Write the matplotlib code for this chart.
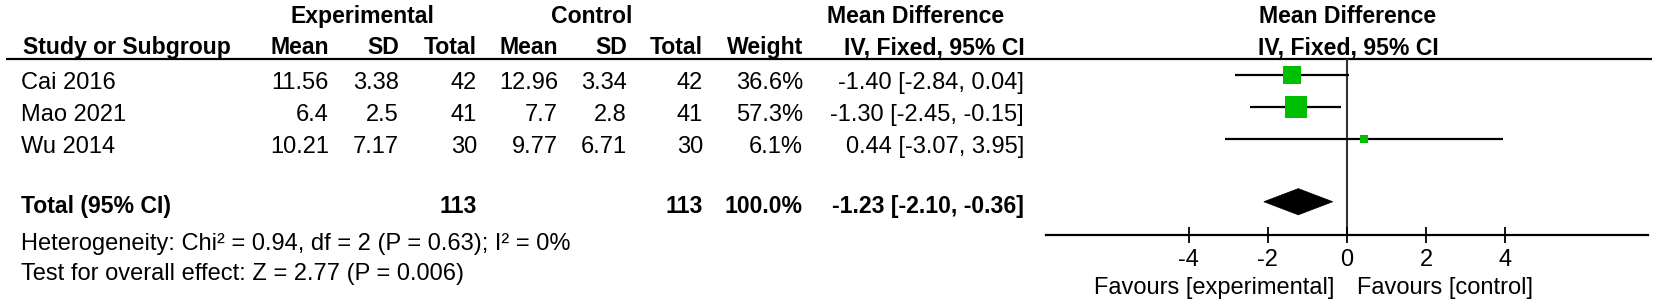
import matplotlib
matplotlib.use("Agg")
import matplotlib.pyplot as plt
from matplotlib.patches import Polygon
import numpy as np

plt.rcParams['font.family'] = ['Liberation Sans', 'DejaVu Sans']

# ---------------- data ----------------
studies = ['Cai 2016', 'Mao 2021', 'Wu 2014']
exp_mean = [11.56, 6.4, 10.21]
exp_sd = [3.38, 2.5, 7.17]
exp_n = [42, 41, 30]
ctl_mean = [12.96, 7.7, 9.77]
ctl_sd = [3.34, 2.8, 6.71]
ctl_n = [42, 41, 30]
weights = [36.6, 57.3, 6.1]
md = [-1.40, -1.30, 0.44]
md_lo = [-2.84, -2.45, -3.07]
md_hi = [0.04, -0.15, 3.95]
total_exp_n = 113
total_ctl_n = 113
total_weight = 100.0
total_md, total_lo, total_hi = -1.23, -2.10, -0.36
heterogeneity = 'Heterogeneity: Chi² = 0.94, df = 2 (P = 0.63); I² = 0%'
overall = 'Test for overall effect: Z = 2.77 (P = 0.006)'
xticks = [-4, -2, 0, 2, 4]
fav_left = 'Favours [experimental]'
fav_right = 'Favours [control]'

# ---------------- layout ----------------
W, H = 1664, 306
DPI = 100
fig = plt.figure(figsize=(W / DPI, H / DPI), dpi=DPI)
fig.patch.set_facecolor('white')

tx = fig.add_axes([0, 0, 1, 1])
tx.set_xlim(0, W)
tx.set_ylim(H, 0)
tx.axis('off')

FS = 17.0    # regular
FB = 16.6    # bold
GREEN = '#00bf00'

# column right edges (pixels)
col_exp_mean, col_exp_sd, col_exp_n = 329, 399, 477
col_ctl_mean, col_ctl_sd, col_ctl_n = 558, 627, 703
col_weight, col_ci = 803, 1024
left_x = 21

# header rows
tx.text(362, 23, 'Experimental', ha='center', va='baseline', fontsize=FB, fontweight='bold')
tx.text(592, 23, 'Control', ha='center', va='baseline', fontsize=FB, fontweight='bold')
tx.text(916, 23, 'Mean Difference', ha='center', va='baseline', fontsize=FB, fontweight='bold')
tx.text(23, 54, 'Study or Subgroup', ha='left', va='baseline', fontsize=FB, fontweight='bold')
for x, s in [(col_exp_mean, 'Mean'), (col_exp_sd, 'SD'), (col_exp_n, 'Total'),
             (col_ctl_mean, 'Mean'), (col_ctl_sd, 'SD'), (col_ctl_n, 'Total'),
             (col_weight, 'Weight'), (col_ci + 1, 'IV, Fixed, 95% CI')]:
    tx.text(x, 54, s, ha='right', va='baseline', fontsize=FB, fontweight='bold')

# header rule
tx.plot([6, 1652], [59, 59], color='black', lw=1.6, solid_capstyle='butt')

# study rows
for i, name in enumerate(studies):
    yb = 89 + 32 * i
    tx.text(left_x, yb, name, ha='left', va='baseline', fontsize=FS)
    vals = [(col_exp_mean, f'{exp_mean[i]:g}'), (col_exp_sd, f'{exp_sd[i]:g}'),
            (col_exp_n, f'{exp_n[i]}'), (col_ctl_mean, f'{ctl_mean[i]:g}'),
            (col_ctl_sd, f'{ctl_sd[i]:g}'), (col_ctl_n, f'{ctl_n[i]}'),
            (col_weight, f'{weights[i]:.1f}%'),
            (col_ci, f'{md[i]:.2f} [{md_lo[i]:.2f}, {md_hi[i]:.2f}]')]
    for x, s in vals:
        tx.text(x, yb, s, ha='right', va='baseline', fontsize=FS)

# total row
yb = 213
tx.text(left_x, yb, 'Total (95% CI)', ha='left', va='baseline', fontsize=FB, fontweight='bold')
tx.text(col_exp_n, yb, f'{total_exp_n}', ha='right', va='baseline', fontsize=FB, fontweight='bold')
tx.text(col_ctl_n, yb, f'{total_ctl_n}', ha='right', va='baseline', fontsize=FB, fontweight='bold')
tx.text(col_weight, yb, f'{total_weight:.1f}%', ha='right', va='baseline', fontsize=FB, fontweight='bold')
tx.text(col_ci, yb, f'{total_md:.2f} [{total_lo:.2f}, {total_hi:.2f}]', ha='right',
        va='baseline', fontsize=FB, fontweight='bold')

tx.text(left_x, 250, heterogeneity, ha='left', va='baseline', fontsize=FS)
tx.text(left_x, 280, overall, ha='left', va='baseline', fontsize=FS)

# ---------------- forest plot ----------------
ax_l, ax_r = 1046, 1648
ax_t, ax_b = 59, 235
ax = fig.add_axes([ax_l / W, 1 - ax_b / H, (ax_r - ax_l) / W, (ax_b - ax_t) / H])
ax.set_xlim(-7.6, 7.6)
ax.set_ylim(5.0, -0.5)
ax.patch.set_alpha(0)
for sp in ['top', 'left', 'right']:
    ax.spines[sp].set_visible(False)
ax.spines['bottom'].set_linewidth(1.6)
ax.set_yticks([])
ax.set_xticks(xticks)
ax.set_xticklabels([f'{t:g}' for t in xticks])
ax.tick_params(axis='x', direction='inout', length=11.5, width=1.3, pad=4.5,
               labelsize=FS, colors='black')

ax.axvline(0, color='#333333', lw=1.5, zorder=1)

for i in range(len(studies)):
    ax.plot([md_lo[i], md_hi[i]], [i, i], color='black', lw=1.6, solid_capstyle='butt', zorder=2)
    side_px = 2.85 * np.sqrt(weights[i])
    ax.plot([md[i]], [i], marker='s', linestyle='none', markersize=side_px * 0.72,
            markerfacecolor=GREEN, markeredgewidth=0, zorder=3)

yd = 3.96
hd = 0.41
diamond = Polygon([[total_lo, yd], [total_md, yd - hd], [total_hi, yd], [total_md, yd + hd]],
                  closed=True, facecolor='black', edgecolor='black', lw=0.5, zorder=3)
ax.add_patch(diamond)

# plot header
tx.text(1348, 23, 'Mean Difference', ha='center', va='baseline', fontsize=FB, fontweight='bold')
tx.text(1348, 54, 'IV, Fixed, 95% CI', ha='center', va='baseline', fontsize=FB, fontweight='bold')

# favours labels
tx.text(1334, 294, fav_left, ha='right', va='baseline', fontsize=FS)
tx.text(1357, 294, fav_right, ha='left', va='baseline', fontsize=FS)

fig.savefig('out.png', dpi=DPI, facecolor='white')
